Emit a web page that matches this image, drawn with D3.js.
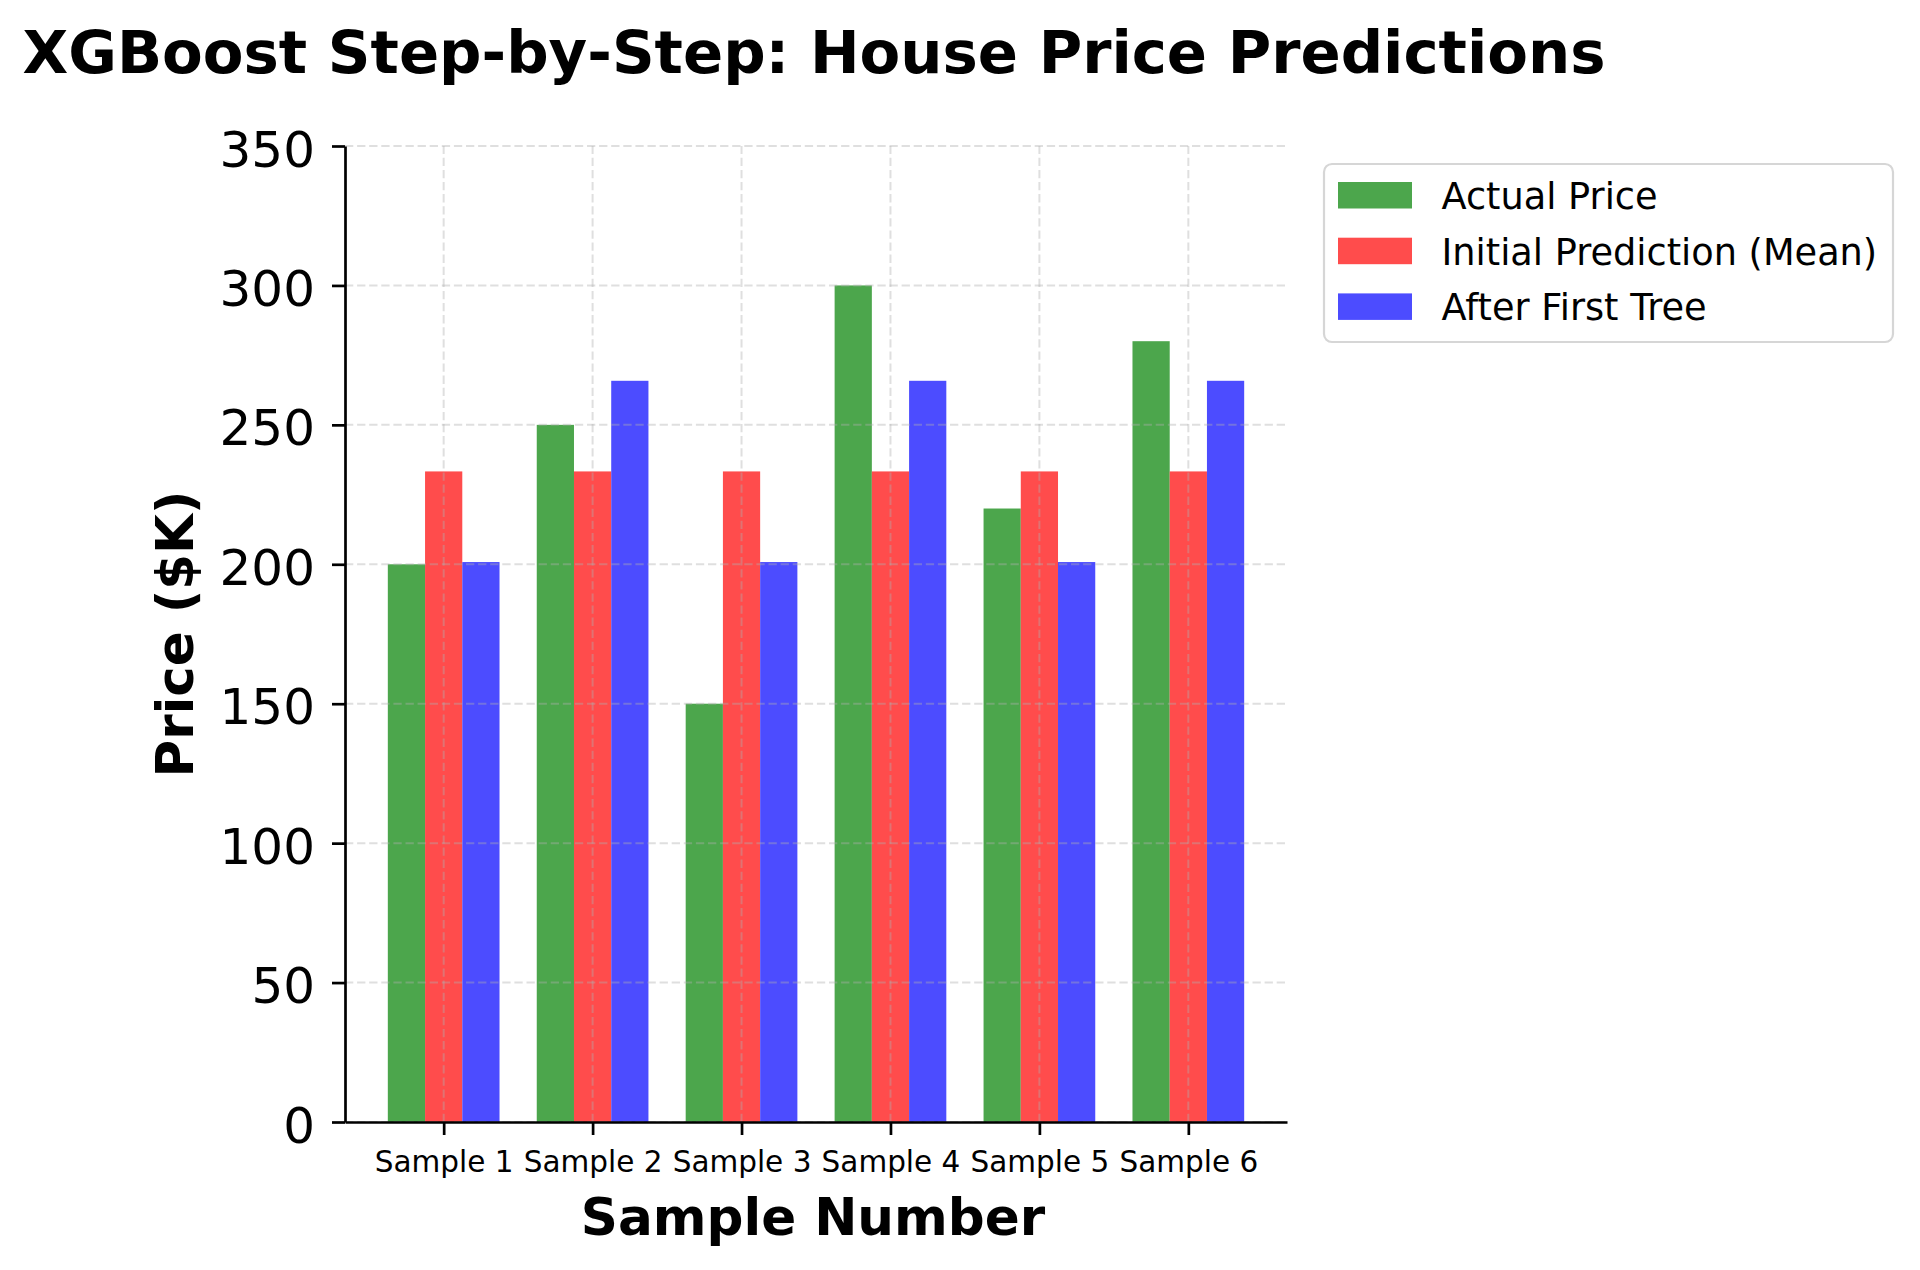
<!DOCTYPE html>
<html>
<head>
<meta charset="utf-8">
<script src="https://cdn.jsdelivr.net/npm/d3@7/dist/d3.min.js"></script>
<style>
  body { margin: 0; background: #fff; }
  text { font-family: "DejaVu Sans", sans-serif; fill: #000; }
</style>
</head>
<body>
<script>
// chart data
var samples = ["Sample 1", "Sample 2", "Sample 3", "Sample 4", "Sample 5", "Sample 6"];
var actualPrice = [200, 250, 150, 300, 220, 280];
var initialPrediction = [233.3, 233.3, 233.3, 233.3, 233.3, 233.3];
var afterFirstTree = [200.8, 265.8, 200.8, 265.8, 200.8, 265.8];
var seriesNames = ["Actual Price", "Initial Prediction (Mean)", "After First Tree"];
var seriesColors = ["#4ca64c", "#ff4c4c", "#4c4cff"];
var yTicks = [0, 50, 100, 150, 200, 250, 300, 350];

var width = 1920, height = 1270;
var margin = {top: 146, right: 633, bottom: 148, left: 345};
var barW = 0.25;

var svg = d3.select("body").append("svg")
  .attr("width", width)
  .attr("height", height);

var x = d3.scaleLinear()
  .domain([-0.6625, 5.6625])
  .range([margin.left, width - margin.right]);

var y = d3.scaleLinear()
  .domain([0, 350])
  .range([height - margin.bottom, margin.top]);

var series = [actualPrice, initialPrediction, afterFirstTree];
var offsets = [-barW, 0, barW];

// bars
series.forEach(function(vals, s) {
  svg.append("g")
    .selectAll("rect")
    .data(vals)
    .enter().append("rect")
    .attr("x", function(d, i) { return x(i + offsets[s] - barW / 2); })
    .attr("width", function(d, i) { return x(i + offsets[s] + barW / 2) - x(i + offsets[s] - barW / 2); })
    .attr("y", function(d) { return y(d); })
    .attr("height", function(d) { return y(0) - y(d); })
    .attr("fill", seriesColors[s]);
});

// grid (drawn over bars like matplotlib)
var grid = svg.append("g")
  .attr("stroke", "#b0b0b0")
  .attr("stroke-opacity", 0.4)
  .attr("stroke-width", 2)
  .attr("stroke-dasharray", "8.3,3.8");

grid.selectAll(".hg")
  .data(yTicks)
  .enter().append("line")
  .attr("x1", x.range()[0]).attr("x2", x.range()[1])
  .attr("y1", function(d) { return y(d); })
  .attr("y2", function(d) { return y(d); });

grid.selectAll(".vg")
  .data(d3.range(samples.length))
  .enter().append("line")
  .attr("y1", y.range()[0]).attr("y2", y.range()[1])
  .attr("x1", function(d) { return x(d); })
  .attr("x2", function(d) { return x(d); });

// axes
var yAxis = svg.append("g")
  .attr("transform", "translate(" + margin.left + ",0)")
  .call(d3.axisLeft(y).tickValues(yTicks).tickSize(13).tickSizeOuter(0).tickPadding(17));

yAxis.selectAll("text")
  .style("font-size", "50px")
  .attr("dy", "0.4em");

var xAxis = svg.append("g")
  .attr("transform", "translate(0," + y(0) + ")")
  .call(d3.axisBottom(x)
    .tickValues(d3.range(samples.length))
    .tickFormat(function(i) { return samples[i]; })
    .tickSize(13).tickSizeOuter(0).tickPadding(16.5));

xAxis.selectAll("text")
  .style("font-size", "29.5px");

svg.selectAll(".domain, .tick line")
  .attr("stroke", "#000")
  .attr("stroke-width", 2.7);

// titles
svg.append("text")
  .attr("x", 814)
  .attr("y", 73)
  .attr("text-anchor", "middle")
  .style("font-size", "59.3px")
  .style("font-weight", "bold")
  .text("XGBoost Step-by-Step: House Price Predictions");

svg.append("text")
  .attr("x", 813)
  .attr("y", 1235)
  .attr("text-anchor", "middle")
  .style("font-size", "51.6px")
  .style("font-weight", "bold")
  .text("Sample Number");

svg.append("text")
  .attr("transform", "translate(193,634) rotate(-90)")
  .attr("text-anchor", "middle")
  .style("font-size", "51.5px")
  .style("font-weight", "bold")
  .text("Price ($K)");

// legend
var legend = svg.append("g");

legend.append("rect")
  .attr("x", 1324).attr("y", 164)
  .attr("width", 569).attr("height", 178)
  .attr("rx", 8).attr("ry", 8)
  .attr("fill", "#fff")
  .attr("stroke", "#d6d6d6")
  .attr("stroke-width", 2.2);

var rows = legend.selectAll(".row")
  .data(seriesNames)
  .enter().append("g")
  .attr("transform", function(d, i) { return "translate(0," + (195 + i * 55.7) + ")"; });

rows.append("rect")
  .attr("x", 1338).attr("y", -13)
  .attr("width", 74).attr("height", 26.5)
  .attr("fill", function(d, i) { return seriesColors[i]; });

rows.append("text")
  .attr("x", 1441.5)
  .attr("y", 14)
  .style("font-size", "36.7px")
  .text(function(d) { return d; });
</script>
</body>
</html>
